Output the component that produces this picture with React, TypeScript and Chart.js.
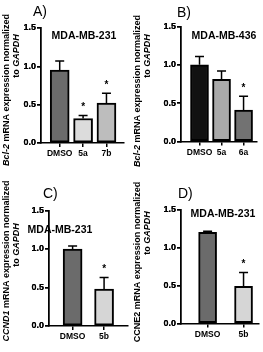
import React, { useEffect, useRef } from 'react';
import { Chart, registerables } from 'chart.js';

Chart.register(...registerables);

// ---------- data ----------
const yTickValues = [0, 0.5, 1.0, 1.5];

const catsA = ['DMSO', '5a', '7b'];
const valsA = [0.95, 0.32, 0.52];
const errsA = [0.12, 0.04, 0.13];
const sigA = ['', '*', '*'];

const catsB = ['DMSO', '5a', '6a'];
const valsB = [1.0, 0.81, 0.41];
const errsB = [0.11, 0.11, 0.18];
const sigB = ['', '', '*'];

const catsC = ['DMSO', '5b'];
const valsC = [1.0, 0.48];
const errsC = [0.04, 0.15];
const sigC = ['', '*'];

const catsD = ['DMSO', '5b'];
const valsD = [1.2, 0.49];
const errsD = [0.015, 0.18];
const sigD = ['', '*'];

// ---------- styling / layout ----------
const FONT = '"Liberation Sans", Arial, sans-serif';

type Panel = {
  label: string;
  title: string;
  gene: string;
  geneItalic: boolean;
  cats: string[];
  vals: number[];
  errs: number[];
  sig: string[];
  colors: string[];
  pos: { x: number; y: number; w: number; h: number };
  area: { l: number; r: number; t: number; b: number };
  xMin: number;
  xMax: number;
  barW: number;
  labelAt: { x: number; y: number };
  titleAt: { x: number; y: number };
  yt1: { x: number; y: number };
  yt2: { x: number; y: number };
};

const panels: Panel[] = [
  {
    label: 'A)', title: 'MDA-MB-231', gene: 'Bcl-2', geneItalic: true,
    cats: catsA, vals: valsA, errs: errsA, sig: sigA,
    colors: ['#6b6b6b', '#dcdcdc', '#bdbdbd'],
    pos: { x: 0, y: 0, w: 131, h: 176 },
    area: { l: 41, r: 124, t: 28, b: 143 },
    xMin: -0.8, xMax: 2.75, barW: 19,
    labelAt: { x: 33, y: 12 }, titleAt: { x: 84, y: 36 },
    yt1: { x: 7, y: 90 }, yt2: { x: 17, y: 56 },
  },
  {
    label: 'B)', title: 'MDA-MB-436', gene: 'Bcl-2', geneItalic: true,
    cats: catsB, vals: valsB, errs: errsB, sig: sigB,
    colors: ['#111111', '#a9a9a9', '#727272'],
    pos: { x: 131, y: 0, w: 132, h: 176 },
    area: { l: 50, r: 126, t: 26.5, b: 141.5 },
    xMin: -0.84, xMax: 2.61, barW: 18,
    labelAt: { x: 46, y: 13 }, titleAt: { x: 93, y: 36 },
    yt1: { x: 7, y: 91 }, yt2: { x: 17, y: 56 },
  },
  {
    label: 'C)', title: 'MDA-MB-231', gene: 'CCND1', geneItalic: true,
    cats: catsC, vals: valsC, errs: errsC, sig: sigC,
    colors: ['#6b6b6b', '#d6d6d6'],
    pos: { x: 0, y: 176, w: 131, h: 176 },
    area: { l: 49, r: 128, t: 34.5, b: 150 },
    xMin: -0.75, xMax: 1.76, barW: 19,
    labelAt: { x: 43, y: 18.5 }, titleAt: { x: 60, y: 54 },
    yt1: { x: 7, y: 85 }, yt2: { x: 17, y: 69 },
  },
  {
    label: 'D)', title: 'MDA-MB-231', gene: 'CCNE2', geneItalic: false,
    cats: catsD, vals: valsD, errs: errsD, sig: sigD,
    colors: ['#6b6b6b', '#d6d6d6'],
    pos: { x: 131, y: 176, w: 132, h: 176 },
    area: { l: 50, r: 128, t: 33.5, b: 147.5 },
    xMin: -0.74, xMax: 1.43, barW: 18,
    labelAt: { x: 47, y: 18 }, titleAt: { x: 92, y: 38 },
    yt1: { x: 7, y: 86 }, yt2: { x: 17, y: 57 },
  },
];

function drawRich(ctx: CanvasRenderingContext2D, segs: { t: string; it: boolean }[], size: number) {
  const fontOf = (it: boolean) => `${it ? 'italic ' : ''}bold ${size}px ${FONT}`;
  let total = 0;
  const widths = segs.map((s) => {
    ctx.font = fontOf(s.it);
    const w = ctx.measureText(s.t).width;
    total += w;
    return w;
  });
  let x = -total / 2;
  segs.forEach((s, i) => {
    ctx.font = fontOf(s.it);
    ctx.fillText(s.t, x, 0);
    x += widths[i];
  });
}

function PanelChart({ p }: { p: Panel }) {
  const ref = useRef<HTMLCanvasElement>(null);
  useEffect(() => {
    const canvas = ref.current!;
    const annot = {
      id: 'annot',
      afterDatasetsDraw(chart: any) {
        const ctx: CanvasRenderingContext2D = chart.ctx;
        const xs = chart.scales.x;
        const ys = chart.scales.y;
        ctx.save();
        ctx.strokeStyle = '#000';
        ctx.fillStyle = '#000';
        ctx.lineWidth = 1.5;
        p.vals.forEach((v, i) => {
          const x = xs.getPixelForValue(i);
          const y0 = ys.getPixelForValue(v);
          const y1 = ys.getPixelForValue(v + p.errs[i]);
          ctx.beginPath();
          ctx.moveTo(x, y0);
          ctx.lineTo(x, y1);
          ctx.moveTo(x - 4.5, y1);
          ctx.lineTo(x + 4.5, y1);
          ctx.stroke();
          if (p.sig[i]) {
            ctx.font = `bold 10px ${FONT}`;
            ctx.textAlign = 'center';
            ctx.textBaseline = 'middle';
            ctx.fillText(p.sig[i], x, y1 - 8);
          }
        });
        ctx.restore();
      },
      afterDraw(chart: any) {
        const ctx: CanvasRenderingContext2D = chart.ctx;
        // make sure the value axis is painted on top (it can be lost otherwise)
        ctx.save();
        chart.scales.y.draw(chart.chartArea);
        ctx.restore();
        ctx.save();
        ctx.fillStyle = '#000';
        ctx.font = `14px ${FONT}`;
        ctx.textAlign = 'left';
        ctx.textBaseline = 'middle';
        ctx.fillText(p.label, p.labelAt.x, p.labelAt.y);
        ctx.font = `bold 10.5px ${FONT}`;
        ctx.textAlign = 'center';
        ctx.fillText(p.title, p.titleAt.x, p.titleAt.y);
        ctx.textAlign = 'left';
        ctx.save();
        ctx.translate(p.yt1.x, p.yt1.y);
        ctx.rotate(-Math.PI / 2);
        drawRich(ctx, [{ t: p.gene, it: p.geneItalic }, { t: ' mRNA expression normalized', it: false }], 9);
        ctx.restore();
        ctx.save();
        ctx.translate(p.yt2.x, p.yt2.y);
        ctx.rotate(-Math.PI / 2);
        drawRich(ctx, [{ t: 'to ', it: false }, { t: 'GAPDH', it: true }], 9);
        ctx.restore();
        ctx.restore();
      },
    };

    const chart = new Chart(canvas, {
      type: 'bar',
      data: {
        datasets: [
          {
            data: p.vals.map((v, i) => ({ x: i, y: v })) as any,
            backgroundColor: p.colors,
            borderColor: '#000',
            borderWidth: 2,
            borderSkipped: false,
            barThickness: p.barW,
          },
        ],
      },
      options: {
        animation: false,
        responsive: false,
        devicePixelRatio: 1,
        events: [],
        layout: {
          padding: { left: 0, top: p.area.t, right: p.pos.w - p.area.r, bottom: 0 },
        },
        plugins: {
          legend: { display: false },
          tooltip: { enabled: false },
          title: { display: false },
        },
        scales: {
          x: {
            type: 'linear',
            position: 'bottom',
            min: p.xMin,
            max: p.xMax,
            offset: false,
            afterFit: (s: any) => {
              s.height = p.pos.h - p.area.b;
            },
            grid: {
              display: true,
              offset: false,
              drawOnChartArea: false,
              drawTicks: true,
              tickLength: 4,
              color: '#000',
              lineWidth: 1.5,
            },
            border: { display: true, color: '#000', width: 1.5 },
            ticks: {
              stepSize: 1,
              includeBounds: false,
              autoSkip: false,
              maxRotation: 0,
              padding: 2,
              color: '#000',
              font: { family: FONT, size: 8.5, weight: 'bold' },
              callback: (v: any) => p.cats[v] ?? '',
            },
          },
          y: {
            type: 'linear',
            position: 'left',
            min: yTickValues[0],
            max: yTickValues[yTickValues.length - 1],
            afterFit: (s: any) => {
              s.width = p.area.l;
            },
            grid: {
              display: true,
              drawOnChartArea: false,
              drawTicks: true,
              tickLength: 4,
              color: '#000',
              lineWidth: 1.5,
            },
            border: { display: true, color: '#000', width: 1.5 },
            ticks: {
              stepSize: 0.5,
              padding: 1,
              color: '#000',
              font: { family: FONT, size: 9, weight: 'bold' },
              callback: (v: any) => Number(v).toFixed(1),
            },
          },
        },
      } as any,
      plugins: [annot],
    });
    return () => chart.destroy();
  }, [p]);
  return (
    <div style={{ position: 'absolute', left: p.pos.x, top: p.pos.y, width: p.pos.w, height: p.pos.h }}>
      <canvas ref={ref} width={p.pos.w} height={p.pos.h} style={{ display: 'block' }} />
    </div>
  );
}

export default function App() {
  return (
    <div style={{ position: 'absolute', left: 0, top: 0, width: 263, height: 352, background: '#fff', overflow: 'hidden' }}>
      {panels.map((p, i) => (
        <PanelChart key={i} p={p} />
      ))}
    </div>
  );
}
